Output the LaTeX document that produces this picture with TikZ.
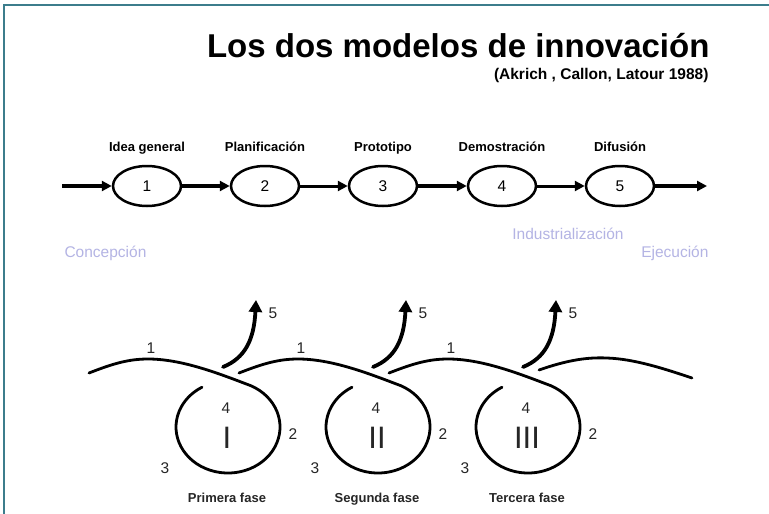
\documentclass[tikz,border=0pt]{standalone}
\usepackage{fontspec}
\setmainfont{Liberation Sans}
\usetikzlibrary{shapes.geometric,arrows.meta}
\definecolor{frame}{HTML}{3C7D8C}
\definecolor{lav}{HTML}{B4B4E4}
\tikzset{
  stage/.style={ellipse,draw,line width=2.5pt,minimum width=68pt,minimum height=40pt,inner sep=0pt,font=\fontsize{15.5}{15.5}\selectfont},
  toplab/.style={anchor=base,font=\bfseries\fontsize{13}{13}\selectfont},
  thickarr/.style={line width=3.8pt,-{Triangle[length=10pt,width=10pt]}},
  thinarr/.style={line width=3.0pt,-{Triangle[length=10pt,width=10pt]}},
  phase/.style={text=lav,font=\fontsize{15.5}{15.5}\selectfont},
  wave/.style={line width=2.8pt,line cap=round},
  outarr/.style={line width=3.8pt,line cap=round,-{Triangle[length=12pt,width=13pt]}},
  num/.style={font=\fontsize{15.5}{15.5}\selectfont,text=black!85},
  roman/.style={font=\fontsize{31}{31}\selectfont,text=black!85},
  fase/.style={anchor=base,font=\bfseries\fontsize{13}{13}\selectfont,text=black!85},
}
\begin{document}
\begin{tikzpicture}[x=1pt,y=-1pt]
\useasboundingbox (0,0) rectangle (769,514);
\fill[white] (0,0) rectangle (769,514);
% frame
\draw[frame,line width=2pt] (4,520) -- (4,5) -- (775,5);
% title
\node[anchor=base east,font=\bfseries\fontsize{33}{33}\selectfont] (title) at (713,57) {Los dos modelos de innovación};
\node[anchor=base east,font=\bfseries\fontsize{15.5}{15.5}\selectfont] (sub) at (712,79) {(Akrich , Callon, Latour 1988)};
% linear model
\coordinate (s0) at (62,186);
\coordinate (s6) at (707,186);
\node[stage] (n1) at (147,186) {1};
\node[stage] (n2) at (265,186) {2};
\node[stage] (n3) at (383,186) {3};
\node[stage] (n4) at (502,186) {4};
\node[stage] (n5) at (620,186) {5};
\draw[thickarr] (s0) -- (n1);
\draw[thickarr] (n1) -- (n2);
\draw[thinarr] (n2) -- (n3);
\draw[thickarr] (n3) -- (n4);
\draw[thinarr] (n4) -- (n5);
\draw[thickarr] (n5) -- (s6);
\node[toplab] (l1) at (147,151) {Idea general};
\node[toplab] (l2) at (265,151) {Planificación};
\node[toplab] (l3) at (383,151) {Prototipo};
\node[toplab] (l4) at (502,151) {Demostración};
\node[toplab] (l5) at (620,151) {Difusión};
\node[phase,anchor=base west] (p1) at (61,257) {Concepción};
\node[phase,anchor=base] (p2) at (568,239) {Industrialización};
\node[phase,anchor=base east] (p3) at (712,257) {Ejecución};
% whirlwind model
\foreach \dx/\r/\f in {0/I/Primera fase,150/II/Segunda fase,300/III/Tercera fase}{
  \begin{scope}[xshift=\dx]
    \draw[wave] (89,373) .. controls (112,364) and (128,359) .. (148,359)
       .. controls (180,359) and (215,372) .. (245.8,383.8)
       arc[start angle=-70,end angle=240,x radius=52,y radius=46];
    \draw[outarr] (223,367) .. controls (245,358) and (254,340) .. (256,300);
    \node[num] at (151,348) {1};
    \node[num] at (273,313) {5};
    \node[num] at (226,408) {4};
    \node[roman] at (227,438) {\r};
    \node[num] at (293,434) {2};
    \node[num] at (165,468) {3};
    \node[fase] at (227,502) {\f};
  \end{scope}
}
\draw[wave] (539,370) .. controls (565,361) and (585,357) .. (607,358) .. controls (635,359) and (665,369) .. (692,378);
\end{tikzpicture}
\end{document}
